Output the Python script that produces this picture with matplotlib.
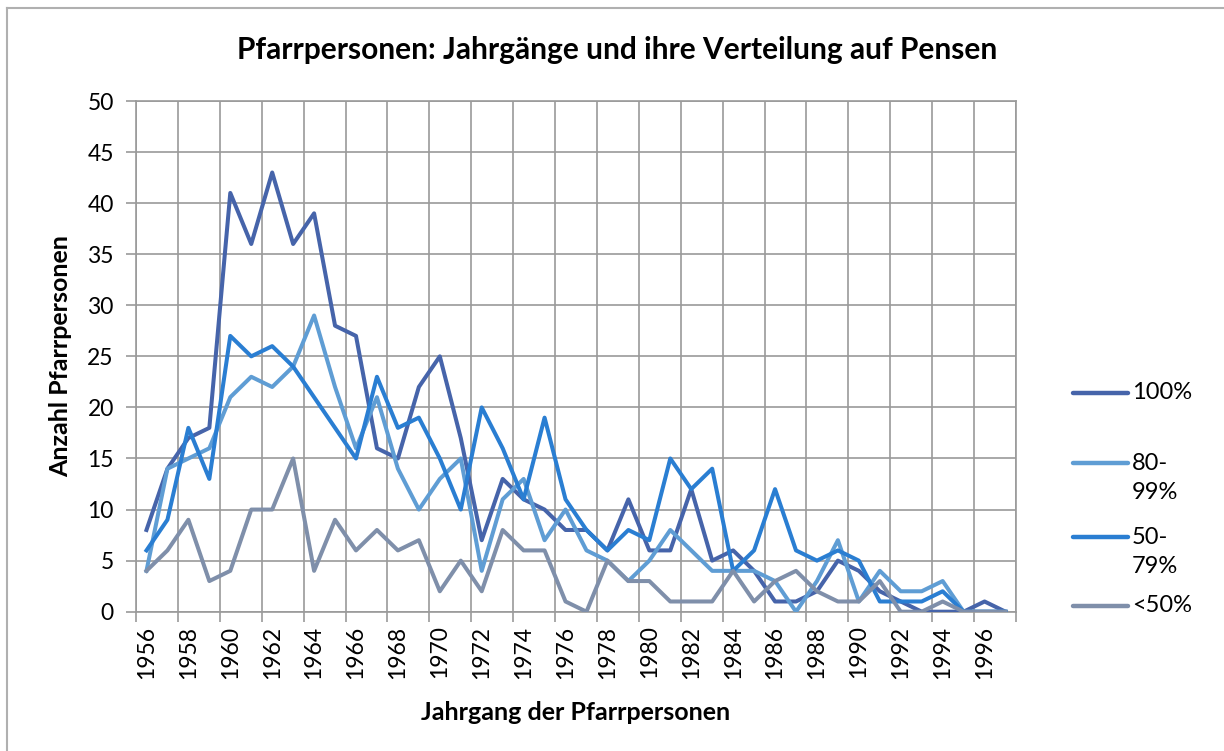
import numpy as np
import matplotlib
matplotlib.use("Agg")
import matplotlib.pyplot as plt
from matplotlib.lines import Line2D

# Daten (Jahrgang 1956-1997)
jahrgaenge = list(range(1956, 1998))
pensum_100 = [8, 14, 17, 18, 41, 36, 43, 36, 39, 28,
              27, 16, 15, 22, 25, 17, 7, 13, 11, 10,
              8, 8, 6, 11, 6, 6, 12, 5, 6, 4,
              1, 1, 2, 5, 4, 2, 1, 0, 0, 0,
              1, 0]
pensum_80_99 = [4, 14, 15, 16, 21, 23, 22, 24, 29, 22,
                16, 21, 14, 10, 13, 15, 4, 11, 13, 7,
                10, 6, 5, 3, 5, 8, 6, 4, 4, 4,
                3, 0, 3, 7, 1, 4, 2, 2, 3, 0,
                0, 0]
pensum_50_79 = [6, 9, 18, 13, 27, 25, 26, 24, 21, 18,
                15, 23, 18, 19, 15, 10, 20, 16, 11, 19,
                11, 8, 6, 8, 7, 15, 12, 14, 4, 6,
                12, 6, 5, 6, 5, 1, 1, 1, 2, 0,
                0, 0]
pensum_unter_50 = [4, 6, 9, 3, 4, 10, 10, 15, 4, 9,
                   6, 8, 6, 7, 2, 5, 2, 8, 6, 6,
                   1, 0, 5, 3, 3, 1, 1, 1, 4, 1,
                   3, 4, 2, 1, 1, 3, 0, 0, 1, 0,
                   0, 0]

serien = [("100%", pensum_100, "#4664aa"),
          ("80-\n99%", pensum_80_99, "#5f9dd4"),
          ("50-\n79%", pensum_50_79, "#2a7ed2"),
          ("<50%", pensum_unter_50, "#7f8faa")]

plt.rcParams['font.family'] = ['Lato', 'DejaVu Sans']

fig = plt.figure(figsize=(12.24, 7.51), dpi=100)
ax = fig.add_axes([136 / 1224, 1 - 611.7 / 751, 880 / 1224, 510.7 / 751])

x = np.arange(len(jahrgaenge))
for name, werte, farbe in serien:
    ax.plot(x, werte, color=farbe, linewidth=2.9, solid_joinstyle='round', zorder=3)

gitter = "#9a9a9a"
ax.set_xlim(-0.5, len(jahrgaenge) - 0.5)
ax.set_ylim(0, 50)
ax.set_yticks(np.arange(0, 51, 5))
ax.set_xticks(np.arange(-0.5, len(jahrgaenge), 2))
ax.set_xticklabels([])
ax.set_xticks(x[::2], minor=True)
ax.set_xticklabels([str(j) for j in jahrgaenge[::2]], minor=True, rotation=90)
ax.tick_params(axis='x', which='major', length=7, color=gitter, width=1.2)
ax.tick_params(axis='x', which='minor', length=0, pad=10, labelsize=16.5)
ax.tick_params(axis='y', length=7, color=gitter, width=1.2, labelsize=16.5, pad=9)
ax.grid(True, which='major', color=gitter, linewidth=1.2, zorder=0)
for s in ax.spines.values():
    s.set_color(gitter)
    s.set_linewidth(1.2)

ax.set_xlabel("Jahrgang der Pfarrpersonen", fontsize=18, fontweight='bold', labelpad=16)
ax.set_ylabel("Anzahl Pfarrpersonen", fontsize=18, fontweight='bold', labelpad=11)
fig.text(617 / 1224, 1 - 50 / 751, "Pfarrpersonen: Jahrgänge und ihre Verteilung auf Pensen",
         ha='center', va='center', fontsize=21.5, fontweight='bold')

# Legende rechts (mehrzeilige Einträge wie im Original umbrochen)
leg_y = [393, 463, 537, 606]
for (name, werte, farbe), yy in zip(serien, leg_y):
    fy = 1 - yy / 751
    fig.add_artist(Line2D([1073 / 1224, 1128 / 1224], [fy, fy], color=farbe, linewidth=3.2,
                          solid_capstyle='round'))
    for i, zeile in enumerate(name.split("\n")):
        fig.text(1132 / 1224, 1 - (yy + i * 29.5) / 751, zeile, ha='left', va='center',
                 fontsize=17)

# Rahmen des Diagrammbereichs
fig.add_artist(Line2D([7 / 1224, 7 / 1224], [0, 1 - 8 / 751], color="#b0b0b0", linewidth=1.5))
fig.add_artist(Line2D([7 / 1224, 1], [1 - 8 / 751, 1 - 8 / 751], color="#b0b0b0", linewidth=1.5))

fig.savefig("out.png", dpi=100)
